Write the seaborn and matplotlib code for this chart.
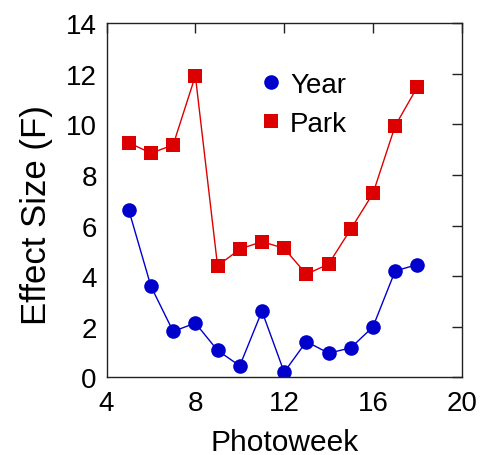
import matplotlib
matplotlib.use("Agg")
import matplotlib.pyplot as plt
import seaborn as sns
import pandas as pd

weeks = [5, 6, 7, 8, 9, 10, 11, 12, 13, 14, 15, 16, 17, 18]
year_vals = [6.62, 3.60, 1.82, 2.15, 1.07, 0.46, 2.62, 0.21, 1.42, 0.96, 1.17, 2.00, 4.21, 4.46]
park_vals = [9.28, 8.86, 9.19, 11.92, 4.41, 5.07, 5.37, 5.10, 4.08, 4.48, 5.86, 7.27, 9.94, 11.48]
x_ticks = [4, 8, 12, 16, 20]
y_ticks = [0, 2, 4, 6, 8, 10, 12, 14]

df = pd.DataFrame({
    "Photoweek": weeks * 2,
    "F": year_vals + park_vals,
    "Series": ["Year"] * len(weeks) + ["Park"] * len(weeks),
})

sns.set_style("white")
plt.rcParams['font.family'] = ['Liberation Sans', 'DejaVu Sans']
plt.rcParams['text.color'] = 'black'
plt.rcParams['axes.labelcolor'] = 'black'
plt.rcParams['xtick.color'] = 'black'
plt.rcParams['ytick.color'] = 'black'

fig = plt.figure(figsize=(4.8, 4.56), dpi=100)
ax = fig.add_axes([0.222, 0.170, 0.740, 0.777])

sns.lineplot(data=df, x="Photoweek", y="F", hue="Series", style="Series",
             palette={"Year": "#0000CC", "Park": "#DD0000"},
             markers={"Year": "o", "Park": "s"}, dashes=False,
             markersize=10.5, markeredgewidth=0, linewidth=1,
             ax=ax, legend=True)

ax.set_xlim(4, 20)
ax.set_ylim(0, 14)
ax.set_xticks(x_ticks)
ax.set_yticks(y_ticks)
ax.set_xlabel("Photoweek", fontsize=21.5, labelpad=9)
ax.set_ylabel("Effect Size (F)", fontsize=25)
ax.yaxis.set_label_coords(-0.152, 0.461)
ax.tick_params(direction="in", length=7, width=1, top=True, right=True,
               labelsize=20, color="#222222")
ax.tick_params(axis="x", pad=9)
ax.tick_params(axis="y", pad=7)
for s in ax.spines.values():
    s.set_color("#222222")
    s.set_linewidth(1)

leg = ax.legend(loc="upper left", bbox_to_anchor=(0.403, 0.893), frameon=False,
                fontsize=20, handlelength=0.7, handletextpad=0.35,
                labelspacing=0.45, markerscale=1.0, borderaxespad=0)
for h in leg.legend_handles:
    h.set_linestyle("None")

fig.savefig("out.png", dpi=100)
